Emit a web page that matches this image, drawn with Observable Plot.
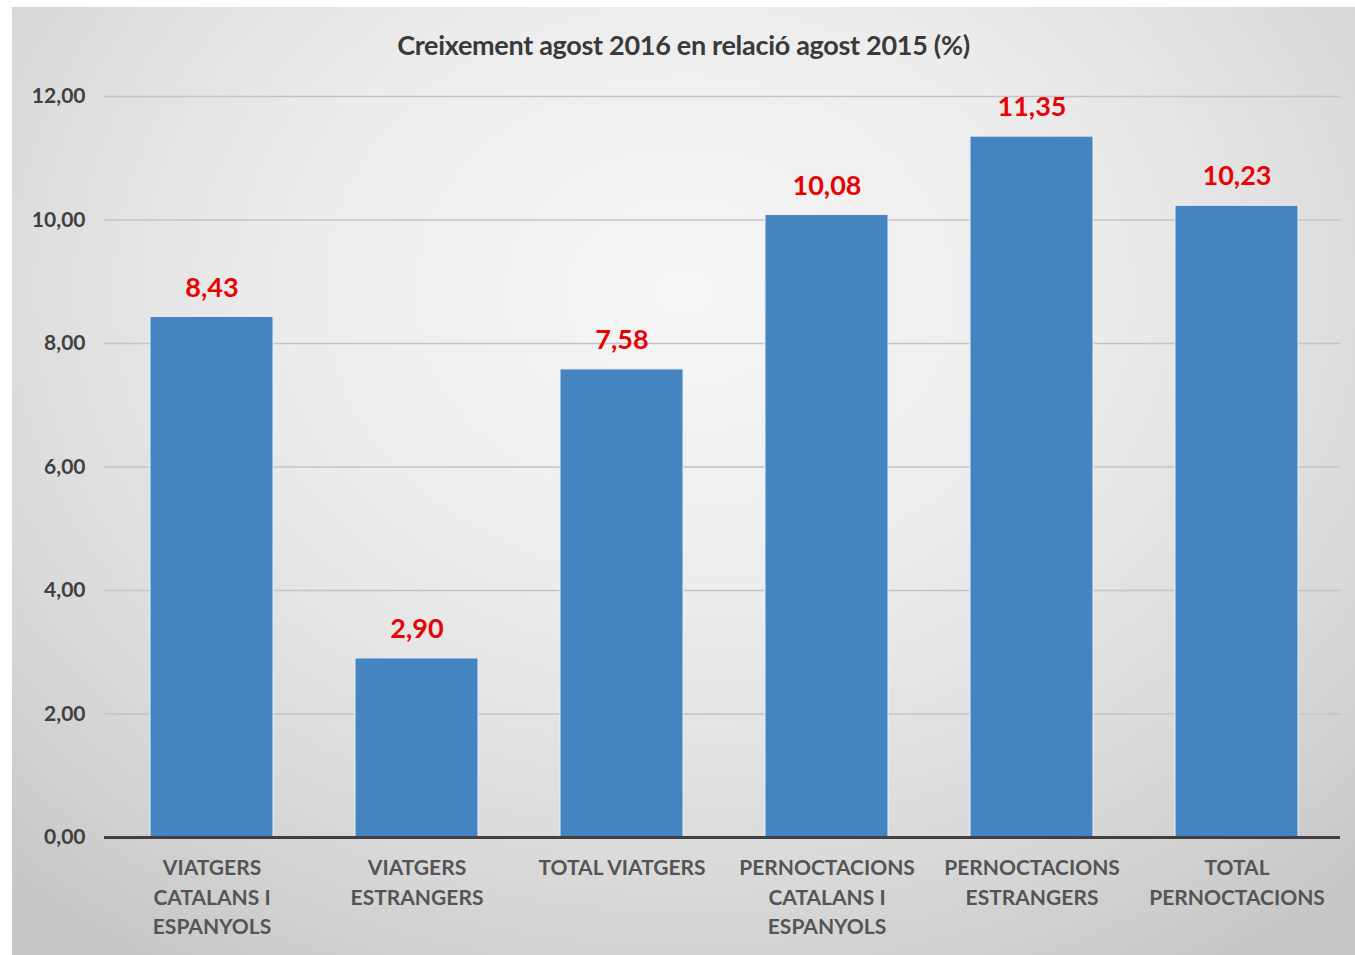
<!DOCTYPE html>
<html>
<head>
<meta charset="utf-8">
<script src="https://cdn.jsdelivr.net/npm/d3@7"></script>
<script src="https://cdn.jsdelivr.net/npm/@observablehq/plot@0.6"></script>
<style>
  html, body { margin: 0; padding: 0; background: #fff; }
  #frame {
    position: absolute; left: 12px; top: 7px; width: 1343px; height: 948px;
    background: radial-gradient(ellipse 75% 85% at 50% 30%, #f6f6f6 0%, #ececec 40%, #d8d8d8 75%, #c6c6c6 100%);
    overflow: hidden;
  }
  #title {
    position: absolute; left: 0; top: 21px; width: 100%; text-align: center;
    font-family: Lato, "Open Sans", sans-serif; font-size: 27px; font-weight: bold; color: #3a3a3a;
    letter-spacing: -0.3px;
  }
  #chart { position: absolute; left: 0; top: 63px; }
</style>
</head>
<body>
<div id="frame">
  <div id="title">Creixement agost 2016 en relació agost 2015 (%)</div>
  <div id="chart"></div>
</div>
<script>
const categories = [
  "VIATGERS CATALANS I ESPANYOLS",
  "VIATGERS ESTRANGERS",
  "TOTAL VIATGERS",
  "PERNOCTACIONS CATALANS I ESPANYOLS",
  "PERNOCTACIONS ESTRANGERS",
  "TOTAL PERNOCTACIONS"
];
const categoryLabels = [
  "VIATGERS\nCATALANS I\nESPANYOLS",
  "VIATGERS\nESTRANGERS",
  "TOTAL VIATGERS",
  "PERNOCTACIONS\nCATALANS I\nESPANYOLS",
  "PERNOCTACIONS\nESTRANGERS",
  "TOTAL\nPERNOCTACIONS"
];
const values = [8.43, 2.90, 7.58, 10.08, 11.35, 10.23];
const yTicks = [0, 2, 4, 6, 8, 10, 12];

const data = categories.map((c, i) => ({category: c, value: values[i]}));
const labelOf = new Map(categories.map((c, i) => [c, categoryLabels[i]]));
const fmt = v => v.toFixed(2).replace(".", ",");

const plot = Plot.plot({
  width: 1343,
  height: 885,
  marginLeft: 95,
  marginRight: 15,
  marginTop: 26,
  marginBottom: 118,
  style: {background: "transparent", fontFamily: "Lato, 'Open Sans', sans-serif"},
  x: {domain: categories, paddingInner: 0.4, paddingOuter: 0.2, label: null},
  y: {domain: [0, 12], label: null},
  marks: [
    Plot.ruleY(yTicks.filter(d => d > 0), {stroke: "#c4c4c4", strokeWidth: 1.5, insetLeft: -3}),
    Plot.barY(data, {x: "category", y: "value", fill: "#4684c1", stroke: "#e8eef6", strokeWidth: 1}),
    Plot.ruleY([0], {stroke: "#404040", strokeWidth: 3, insetLeft: -3}),
    Plot.text(data, {x: "category", y: "value", text: d => fmt(d.value), dy: -29,
      fill: "#e60000", fontSize: 27, fontWeight: "bold"}),
    Plot.axisY({ticks: yTicks, tickFormat: fmt, tickSize: 0, tickPadding: 22,
      fontSize: 21, fill: "#404040", fontWeight: "bold"}),
    Plot.axisX({tickFormat: d => labelOf.get(d), tickSize: 0, tickPadding: 17,
      fontSize: 21, fill: "#555555", fontWeight: "bold", lineHeight: 1.4})
  ]
});
document.getElementById("chart").appendChild(plot);
</script>
</body>
</html>
